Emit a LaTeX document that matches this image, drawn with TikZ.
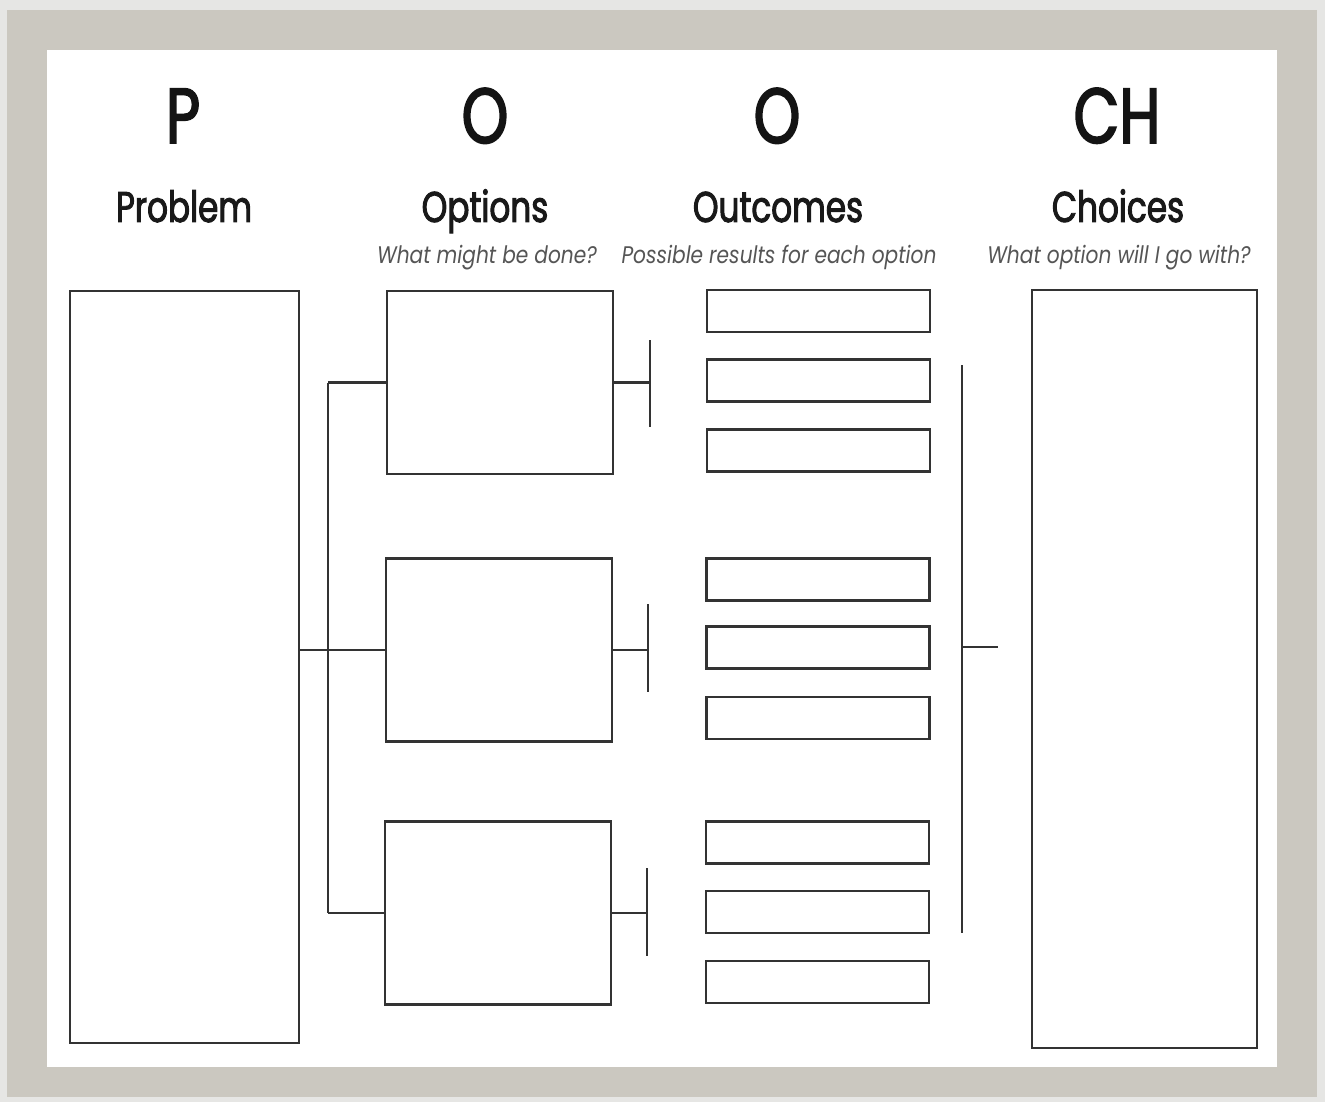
\documentclass[tikz,border=0pt]{standalone}
\usepackage{fontspec}
\setmainfont{Poppins}[FakeStretch=0.78]
\newfontfamily\headfont{Poppins}[FakeStretch=0.76, FakeBold=2.2]
\newfontfamily\subfont{Poppins}[FakeStretch=0.84]
\usetikzlibrary{calc}
\definecolor{framegray}{HTML}{CBC8C0}
\definecolor{shadowgray}{HTML}{E6E6E4}
\definecolor{inkc}{HTML}{333333}
\definecolor{subc}{HTML}{555555}
\tikzset{
  box/.style={draw=inkc, line width=2.2pt, inner sep=0pt, fill=white},
  outbox/.style={box, minimum width=223pt, minimum height=42pt},
  optbox/.style={box, minimum width=226pt, minimum height=183pt},
  wire/.style={draw=inkc, line width=2.2pt},
  letter/.style={font=\headfont\fontsize{78}{80}\selectfont, text=black!92, inner sep=0pt, anchor=base},
  title/.style={font=\headfont\fontsize{43}{46}\selectfont, text=black!90, inner sep=0pt, anchor=base},
  sub/.style={font=\subfont\fontsize{24}{26}\selectfont\itshape, text=subc, inner sep=0pt, anchor=base}
}
\begin{document}
\begin{tikzpicture}[x=1pt,y=-1pt]
\useasboundingbox (0,0) rectangle (1325,1102);
\fill[shadowgray] (0,0) rectangle (1325,1102);
\fill[framegray] (7,10) rectangle (1317,1097);
\fill[white] (47,50) rectangle (1277,1067);
% headings
\node[letter] (hp) at (183,143) {P};
\node[letter] (ho1) at (485,143) {O};
\node[letter] (ho2) at (777,143) {O};
\node[letter] (hch) at (1117,143) {CH};
\node[title] (tp) at (184,222) {Problem};
\node[title] (to1) at (485,222) {Options};
\node[title] (to2) at (778,222) {Outcomes};
\node[title] (tch) at (1118,222) {Choices};
\node[sub] (s1) at (487,263) {What might be done?};
\node[sub] (s2) at (779,263) {Possible results for each option};
\node[sub] (s3) at (1119,263) {What option will I go with?};
% boxes
\node[box, minimum width=229pt, minimum height=752pt] (prob) at (184.5,667) {};
\node[optbox] (opt1) at (500,382.5) {};
\node[optbox] (opt2) at (499,650) {};
\node[optbox] (opt3) at (498,913) {};
\node[outbox] (oa1) at (818.5,311) {};
\node[outbox] (oa2) at (818.5,380.5) {};
\node[outbox] (oa3) at (818.5,450.5) {};
\node[outbox] (ob1) at (818,579.5) {};
\node[outbox] (ob2) at (818,647.5) {};
\node[outbox] (ob3) at (818,718) {};
\node[outbox] (oc1) at (817.5,842.5) {};
\node[outbox] (oc2) at (817.5,912) {};
\node[outbox] (oc3) at (817.5,982) {};
\node[box, minimum width=225pt, minimum height=758pt] (choice) at (1144.5,669) {};
% problem -> options
\coordinate (bx) at (328,0);
\draw[wire] (prob.east |- opt2.west) -- (opt2.west);
\draw[wire] (bx |- opt1.west) -- (bx |- opt3.west);
\draw[wire] (bx |- opt1.west) -- (opt1.west);
\draw[wire] (bx |- opt3.west) -- (opt3.west);
% option tees
\coordinate (t1) at (650,383);
\coordinate (t2) at (648,649);
\coordinate (t3) at (647,912);
\draw[wire] (opt1.east) -- (t1 |- opt1.east);
\draw[wire] (t1) ++(0,-43) -- ++(0,87);
\draw[wire] (opt2.east) -- (t2 |- opt2.east);
\draw[wire] (t2) ++(0,-45) -- ++(0,88);
\draw[wire] (opt3.east) -- (t3 |- opt3.east);
\draw[wire] (t3) ++(0,-44) -- ++(0,88);
% choice bar
\coordinate (cbtop) at (962,365);
\coordinate (cbbot) at (962,933);
\coordinate (cbmid) at (962,647);
\coordinate (cbend) at (998,647);
\draw[wire] (cbtop) -- (cbbot);
\draw[wire] (cbmid) -- (cbend);
\end{tikzpicture}
\end{document}
